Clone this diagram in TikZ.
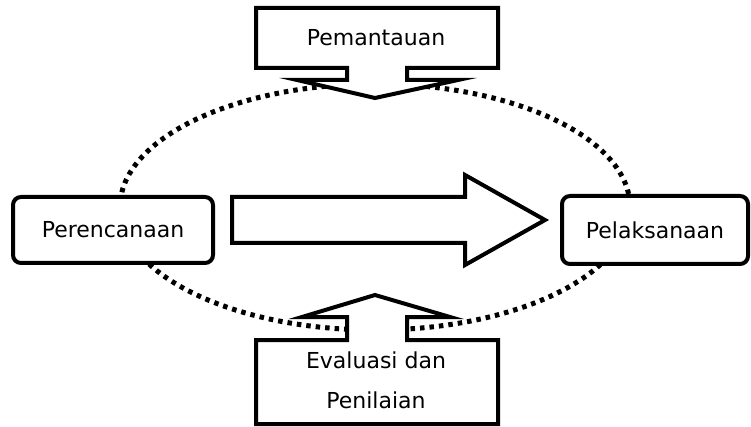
\documentclass[tikz,border=0pt]{standalone}
\usepackage{fontspec}
\setmainfont{DejaVu Sans}
\usepackage{tikz}
\usetikzlibrary{positioning}

\begin{document}
\begin{tikzpicture}[x=1pt,y=-1pt,line width=4pt,font=\fontsize{22}{26}\selectfont,
	box/.style={draw,fill=white,rounded corners=8pt,inner sep=0pt},
	ring/.style={line width=5pt,dash pattern=on 4.5pt off 5pt},
	shell/.style={draw,fill=white,line join=miter}]
  \useasboundingbox (0,0) rectangle (751,427);

  % dotted cycle behind everything
  \draw[ring] (375,207) ellipse [x radius=255,y radius=123];

  \node[box,minimum width=200pt,minimum height=66pt] 	(ren) at (113,230) {Perencanaan};
  \node[box,minimum width=186pt,minimum height=68pt] 	(lak) at (655,230) {Pelaksanaan};

  % big arrow between the two
  \draw[shell] (232,197) -- (465,197) -- (465,175) -- (545,220) -- (465,265) -- (465,243) -- (232,243) -- cycle;

  % callout above
  \draw[shell] (256,8) -- (498,8) -- (498,68) -- (407,68) -- (407,80) -- (458,80) -- (375,98)
		-- (297,80) -- (347,80) -- (347,68) -- (256,68) -- cycle;
  \node (pan) at (376,38) {Pemantauan};

  % callout below
  \fill[white] (256,424) rectangle (498,340) (347,341) rectangle (407,317);
  \draw[line join=miter] (256,424) -- (256,340) -- (347,340) -- (347,317) -- (302,317) -- (375,295)
		-- (450,317) -- (407,317) -- (407,340) -- (498,340) -- (498,424) -- cycle;
  \node[anchor=base] (eva) at (376,368) {Evaluasi dan};
  \node[anchor=base] (nil) at (376,408) {Penilaian};
\end{tikzpicture}
\end{document}
